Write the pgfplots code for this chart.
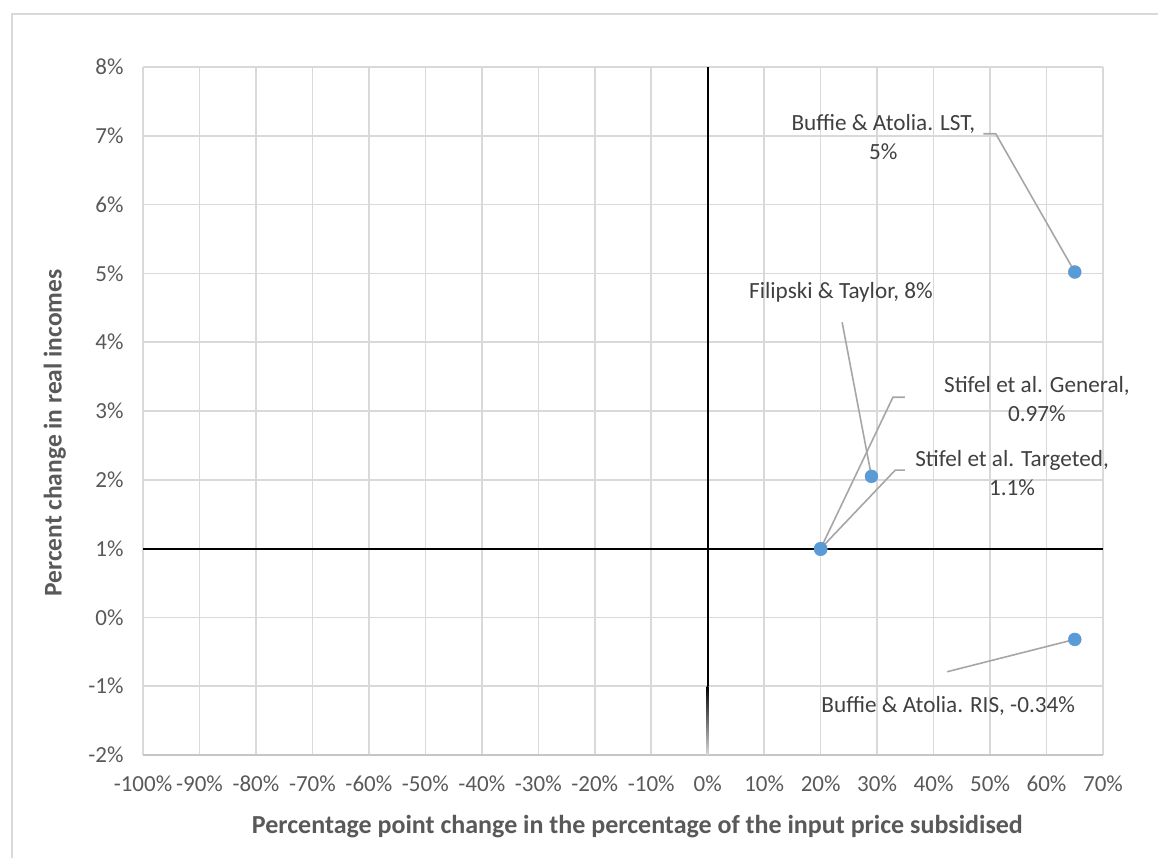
\documentclass[border=0pt]{standalone}
\usepackage{fontspec}
\setmainfont{Carlito}
\usepackage{pgfplots}
\pgfplotsset{compat=1.18}
\definecolor{gridc}{HTML}{D9D9D9}
\definecolor{tickc}{HTML}{595959}
\definecolor{annc}{HTML}{404040}
\definecolor{leadc}{HTML}{A6A6A6}
\definecolor{ptc}{HTML}{5B9BD5}
\begin{document}
\begin{tikzpicture}
\begin{axis}[
  scale only axis, width=960pt, height=688pt,
  xmin=-100, xmax=70, ymin=-2, ymax=8,
  xtick={-100,-90,...,70}, ytick={-2,-1,...,8},
  xticklabels={-100\%,-90\%,-80\%,-70\%,-60\%,-50\%,-40\%,-30\%,-20\%,-10\%,0\%,10\%,20\%,30\%,40\%,50\%,60\%,70\%},
  yticklabels={-2\%,-1\%,0\%,1\%,2\%,3\%,4\%,5\%,6\%,7\%,8\%},
  major tick length=0pt,
  grid=major,
  grid style={gridc, line width=1.5pt},
  axis line style={draw=none},
  xticklabel style={font=\fontsize{23}{27}\selectfont, text=tickc, yshift=-17pt},
  yticklabel style={font=\fontsize{23}{27}\selectfont, text=tickc, xshift=-16pt},
  xlabel={Percentage point change in the percentage of the input price subsidised},
  ylabel={Percent change in real incomes},
  xlabel style={at={(axis description cs:0.515,-0.104)}, anchor=center, font=\bfseries\fontsize{26}{30}\selectfont, text=tickc},
  ylabel style={at={(axis description cs:-0.0917,0.468)}, anchor=center, font=\bfseries\fontsize{25.5}{30}\selectfont, text=tickc},
  clip=false,
]
% axis lines
\draw[gray!45, line width=1.5pt] (axis cs:-100,-2) -- (axis cs:70,-2);
\draw[black, line width=2pt] (axis cs:-100,1) -- (axis cs:70,1);
\draw[black, line width=2pt] (axis cs:0,8) -- (axis cs:0,-1.0);
\shade[top color=black, bottom color=gridc] ([xshift=-1pt]axis cs:0,-1.0) rectangle ([xshift=1pt]axis cs:0,-2);
% data
\addplot[only marks, mark=*, mark size=6.5pt, color=ptc, mark options={draw=ptc, fill=ptc}]
  coordinates {(65,5.02) (29,2.05) (20,1.00) (20,0.99) (65,-0.32)};
% leader lines
\draw[leadc, line width=1.6pt] (axis cs:65,5.02) -- (axis cs:51,7.03) -- (axis cs:48.8,7.03);
\draw[leadc, line width=1.6pt] (axis cs:29,2.05) -- (axis cs:23.8,4.29);
\draw[leadc, line width=1.6pt] (axis cs:20,1.00) -- (axis cs:32.8,3.20) -- (axis cs:34.9,3.20);
\draw[leadc, line width=1.6pt] (axis cs:20,1.00) -- (axis cs:33.2,2.14) -- (axis cs:34.9,2.14);
\draw[leadc, line width=1.6pt] (axis cs:65,-0.32) -- (axis cs:42.4,-0.79);
% labels
\node[align=center, text=annc, font=\fontsize{23.2}{29}\selectfont] at (axis cs:31.1,6.98) {Buffie \& Atolia. LST,\\5\%};
\node[align=center, text=annc, font=\fontsize{23.2}{29}\selectfont] at (axis cs:23.6,4.72) {Filipski \& Taylor, 8\%};
\node[align=center, text=annc, font=\fontsize{23.2}{29}\selectfont] at (axis cs:58.3,3.17) {Stifel et al. General,\\0.97\%};
\node[align=center, text=annc, font=\fontsize{23.2}{29}\selectfont] at (axis cs:53.9,2.10) {Stifel et al. Targeted,\\1.1\%};
\node[align=center, text=annc, font=\fontsize{23.2}{29}\selectfont] at (axis cs:42.6,-1.29) {Buffie \& Atolia. RIS, -0.34\%};
\end{axis}
\draw[gridc, line width=2pt] (-131pt,-120pt) -- (-131pt,741pt) -- (1030pt,741pt);
\pgfresetboundingbox
\path[use as bounding box] (-143pt,-103pt) rectangle (1015pt,755pt);
\end{tikzpicture}
\end{document}
